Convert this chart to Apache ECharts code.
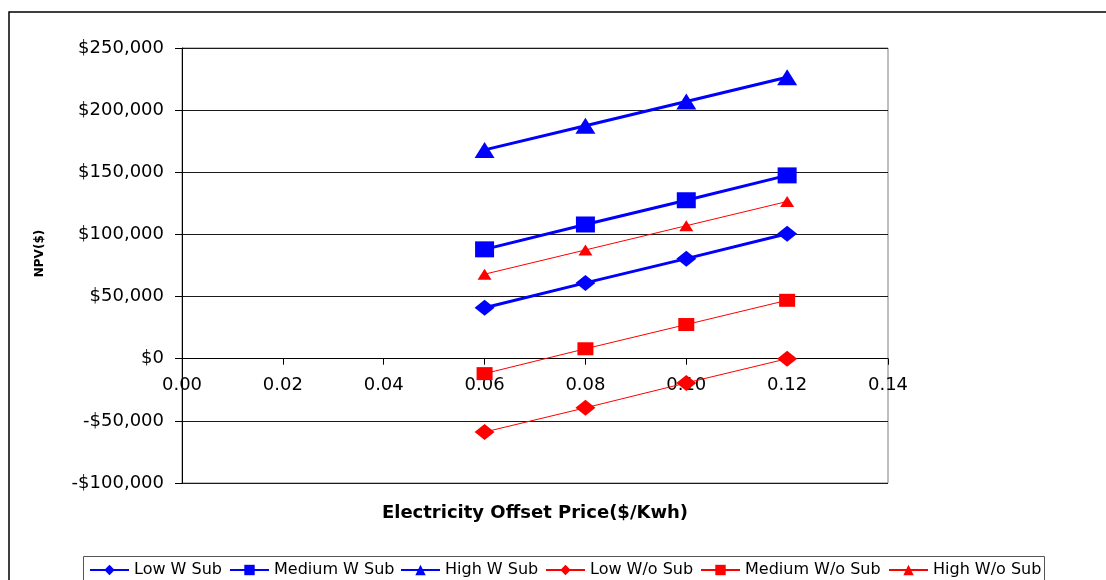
<!DOCTYPE html>
<html>
<head>
<meta charset="utf-8">
<script src="https://cdn.jsdelivr.net/npm/echarts@6/dist/echarts.min.js"></script>
<style>
html,body{margin:0;padding:0;background:#fff;}
#chart{width:1106px;height:580px;}
</style>
</head>
<body>
<div id="chart"></div>
<script>
// Data
const prices = [0.06, 0.08, 0.10, 0.12];
const lowWSub = [41000, 61000, 80500, 100500];
const mediumWSub = [88000, 108000, 127500, 147500];
const highWSub = [168000, 187500, 207000, 226500];
const lowWoSub = [-59000, -39500, -19500, 0];
const mediumWoSub = [-12000, 8000, 27500, 47000];
const highWoSub = [68000, 87500, 107000, 126500];
const seriesNames = ['Low W Sub', 'Medium W Sub', 'High W Sub', 'Low W/o Sub', 'Medium W/o Sub', 'High W/o Sub'];
const xTicks = [0, 0.02, 0.04, 0.06, 0.08, 0.10, 0.12, 0.14];
const yTicks = [-100000, -50000, 0, 50000, 100000, 150000, 200000, 250000];

const BLUE = '#0000FF', RED = '#FF0000';
const FONT = 'DejaVu Sans';

// layout
const GRID = { left: 182, right: 218, top: 48, bottom: 97 };
const plotH = 580 - GRID.top - GRID.bottom;
const yMin = yTicks[0], yMax = yTicks[yTicks.length - 1];
// distance from the bottom of the plot to the value 0, used to put the x axis on zero
const zeroOffset = -plotH * (0 - yMin) / (yMax - yMin);

function pairs(vals) { return prices.map((p, i) => [p, vals[i]]); }
function money(v) {
  const s = '$' + Math.abs(v).toLocaleString('en-US');
  return v < 0 ? '-' + s : s;
}

const styles = [
  { data: lowWSub, color: BLUE, width: 3, symbol: 'diamond', size: [20, 16] },
  { data: mediumWSub, color: BLUE, width: 3, symbol: 'rect', size: [19, 16] },
  { data: highWSub, color: BLUE, width: 3, symbol: 'triangle', size: [20, 16] },
  { data: lowWoSub, color: RED, width: 1, symbol: 'diamond', size: [20, 16] },
  { data: mediumWoSub, color: RED, width: 1, symbol: 'rect', size: [16, 13] },
  { data: highWoSub, color: RED, width: 1, symbol: 'triangle', size: [14, 11] }
];

const legendLefts = [84, 224, 395, 540, 695, 883];

const chart = echarts.init(document.getElementById('chart'), null, { renderer: 'canvas' });
chart.setOption({
  animation: false,
  backgroundColor: '#fff',
  textStyle: { fontFamily: FONT },
  grid: Object.assign({}, GRID, {
    containLabel: false, outerBoundsMode: 'none',
    show: true, borderColor: '#808080', borderWidth: 1, backgroundColor: 'transparent'
  }),
  xAxis: {
    type: 'value',
    min: xTicks[0], max: xTicks[xTicks.length - 1], interval: xTicks[1] - xTicks[0],
    offset: zeroOffset,
    name: 'Electricity Offset Price($/Kwh)',
    nameLocation: 'middle', nameGap: 146,
    nameTextStyle: { fontFamily: FONT, fontWeight: 'bold', fontSize: 18, color: '#000' },
    axisLine: { show: true, onZero: false, lineStyle: { color: '#000', width: 1 } },
    axisTick: { show: true, inside: false, length: 6, lineStyle: { color: '#000' } },
    axisLabel: { color: '#000', fontSize: 18, fontFamily: FONT, margin: 18,
      formatter: v => v.toFixed(2) },
    splitLine: { show: false }
  },
  yAxis: {
    type: 'value',
    min: yMin, max: yMax, interval: yTicks[1] - yTicks[0],
    name: 'NPV($)',
    nameLocation: 'middle', nameGap: 136, nameRotate: 90,
    nameTextStyle: { fontFamily: FONT, fontWeight: 'bold', fontSize: 12, color: '#000', padding: [0, 0, 0, 24] },
    axisLine: { show: true, onZero: false, lineStyle: { color: '#000', width: 1 } },
    axisTick: { show: true, inside: false, length: 7, lineStyle: { color: '#000' } },
    axisLabel: { color: '#000', fontSize: 18, fontFamily: FONT, margin: 18, formatter: money },
    splitLine: { show: true, lineStyle: { color: '#1a1a1a', width: 1 } }
  },
  legend: seriesNames.map((n, i) => ({
    data: [n],
    left: legendLefts[i], top: 557,
    itemWidth: 39, itemHeight: 13, itemGap: 0,
    textStyle: { fontFamily: FONT, fontSize: 16, color: '#000' },
    selectedMode: false
  })),
  series: styles.map((s, i) => ({
    name: seriesNames[i],
    type: 'line',
    data: pairs(s.data),
    symbol: s.symbol,
    symbolSize: s.size,
    showAllSymbol: true,
    lineStyle: { color: s.color, width: s.width },
    itemStyle: { color: s.color },
    emphasis: { disabled: true },
    z: 3
  })),
  graphic: [
    { type: 'rect', silent: true, z: 100,
      shape: { x: 9, y: 12, width: 1300, height: 800 },
      style: { fill: 'none', stroke: '#000', lineWidth: 1.5 } },
    { type: 'rect', silent: true, z: 100,
      shape: { x: 83.5, y: 556.5, width: 961, height: 60 },
      style: { fill: 'none', stroke: '#555', lineWidth: 1 } }
  ]
});
</script>
</body>
</html>
